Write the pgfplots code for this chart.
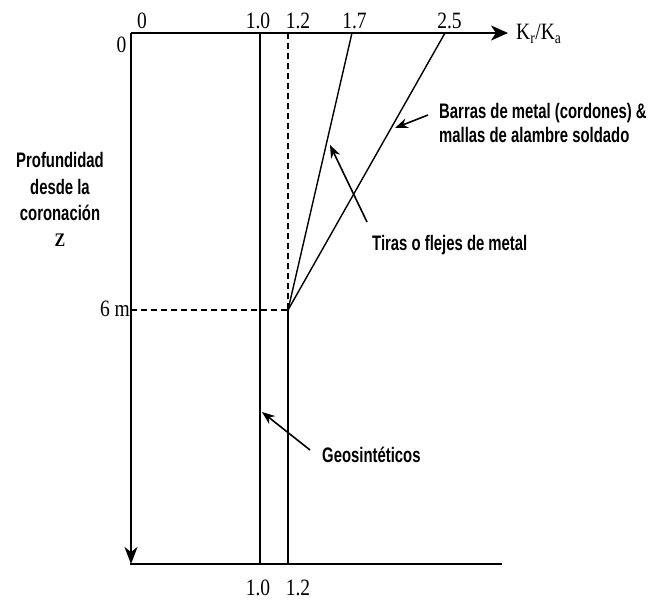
\documentclass[border=0pt]{standalone}
\usepackage{graphicx}
\usepackage{pgfplots}
\pgfplotsset{compat=1.18}
\usepackage{fontspec}
\setmainfont{Liberation Serif}
\newfontfamily\lab[FakeStretch=0.85]{Liberation Sans}
\usetikzlibrary{arrows.meta}
\newcommand\vs[1]{\scalebox{1}[1.2]{#1}}
\begin{document}
\begin{tikzpicture}
\begin{axis}[at={(131pt,-33pt)}, anchor=north west, scale only axis,
  width=374.1pt, height=531pt, xmin=0, xmax=2.9, ymin=0, ymax=11.5,
  y dir=reverse, hide axis, clip=false]
% Geosinteticos: K_r/K_a = 1.0 at all depths
\addplot[black, line width=1.9pt] coordinates {(1.0,0) (1.0,11.5)};
% Tiras o flejes de metal: 1.7 at top to 1.2 at 6 m
\addplot[black, line width=1.4pt] coordinates {(1.713,0) (1.217,6)};
% Barras de metal: 2.5 at top to 1.2 at 6 m
\addplot[black, line width=1.4pt] coordinates {(2.434,0) (1.217,6)};
% 1.2 below 6 m
\addplot[black, line width=1.4pt] coordinates {(1.217,6) (1.217,11.5)};
% dashed guides
\addplot[black, line width=1.3pt, dash pattern=on 6pt off 4pt] coordinates {(1.217,0) (1.217,6)};
\addplot[black, line width=1.3pt, dash pattern=on 6pt off 4pt] coordinates {(0,6) (1.217,6)};
\end{axis}
\begin{scope}[x=1pt,y=-1pt]
\path (0,0) rectangle (650,601);
% axes
\draw[line width=2pt, -{Stealth[length=17pt,width=15pt,inset=5pt]}] (131,33) -- (508,33);
\draw[line width=2pt, -{Stealth[length=17pt,width=13pt,inset=5pt]}] (131,33) -- (131,564);
\draw[line width=2pt] (130,564) -- (502,564);
% tick labels
\begin{scope}[every node/.style={inner sep=0pt, font=\fontsize{19.5}{22}\selectfont}]
\node at (142,20.5) {\vs{0}};
\node at (258,20.5) {\vs{1.0}};
\node at (298,20.5) {\vs{1.2}};
\node at (354.5,20.5) {\vs{1.7}};
\node at (449.5,20.5) {\vs{2.5}};
\node at (121.5,44.5) {\vs{0}};
\node at (115,309) {\vs{6 m}};
\node at (258,588) {\vs{1.0}};
\node at (298,588) {\vs{1.2}};
\node[anchor=west] at (516,34) {\vs{K\textsubscript{r}/K\textsubscript{a}}};
\end{scope}
% labels
\begin{scope}[every node/.style={inner sep=0pt, font=\lab\bfseries\fontsize{17.5}{20}\selectfont}]
\node[anchor=west] at (439,126) {\vs{\begin{tabular}{@{}l@{}}Barras de metal (cordones) \&\\mallas de alambre soldado\end{tabular}}};
\node[anchor=west] at (372,245) {\vs{Tiras o flejes de metal}};
\node[anchor=west] at (322,455) {\vs{Geosintéticos}};
\node at (60,189) {\vs{\fontsize{17.5}{22}\selectfont\begin{tabular}{@{}c@{}}Profundidad\\desde la\\coronación\end{tabular}}};
\node[font=\rmfamily\bfseries\fontsize{16}{18}\selectfont] at (60,240) {\vs{Z}};
\end{scope}
% annotation arrows
\draw[line width=1.6pt, -{Stealth[length=13pt,width=10pt]}] (428,115) -- (395,128);
\draw[line width=1.6pt, -{Stealth[length=13pt,width=10pt]}] (367,222) -- (330,145);
\draw[line width=1.6pt, -{Stealth[length=13pt,width=10pt]}] (310,450) -- (262,412);
\end{scope}
\end{tikzpicture}
\end{document}
